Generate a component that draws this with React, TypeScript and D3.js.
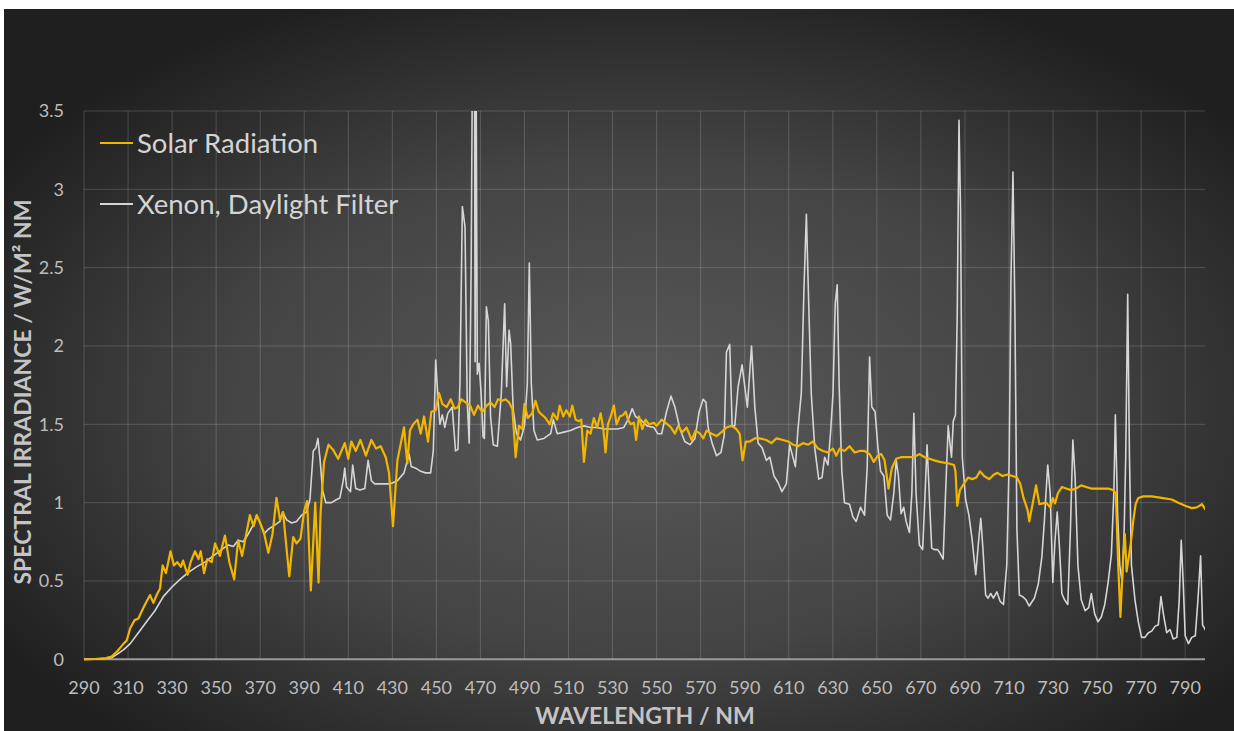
import React from "react";
import * as d3 from "d3";

// ---------- DATA ----------
const xTicks = d3.range(290, 791, 20);
const yTicks = [0, 0.5, 1, 1.5, 2, 2.5, 3, 3.5];
const seriesNames = ["Solar Radiation", "Xenon, Daylight Filter"];

// [wavelength nm, spectral irradiance W/m² nm]
const solar: [number, number][] = [
  [290,0],[295,0.002],[300,0.008],[302.5,0.017],[305,0.05],[308,0.10],[309.4,0.12],[311,0.20],[313,0.25],[314.7,0.26],[316,0.30],[317.7,0.35],[320,0.41],[321.5,0.36],[323.3,0.42],[324.5,0.45],[325.7,0.60],[327.2,0.55],[329.3,0.69],[330.8,0.60],[332.4,0.62],[334,0.59],[335,0.63],[337,0.54],[338.4,0.62],[340.4,0.69],[342,0.64],[343,0.69],[344.5,0.55],[346,0.64],[348,0.62],[349.5,0.74],[351.7,0.66],[354,0.79],[356,0.62],[358.2,0.51],[360,0.76],[361.8,0.66],[363.4,0.78],[365.3,0.92],[367,0.85],[368.4,0.92],[370,0.87],[371.7,0.81],[373.7,0.68],[375.6,0.80],[377.4,1.03],[379,0.89],[380.4,0.94],[381.6,0.76],[383.2,0.53],[385,0.78],[386.5,0.74],[388.3,0.77],[390,0.95],[391.3,1.01],[393,0.44],[395,1.00],[396.5,0.49],[397.4,0.93],[399,1.26],[401,1.37],[403,1.34],[405.4,1.28],[408.4,1.38],[410,1.28],[411.4,1.39],[413.4,1.33],[415.5,1.40],[418,1.30],[420.5,1.40],[422.6,1.345],[424.7,1.36],[427,1.29],[428.5,1.19],[430.3,0.85],[432.3,1.27],[435.3,1.48],[436.8,1.25],[438,1.46],[439.5,1.50],[441.4,1.53],[442.9,1.44],[444.4,1.55],[446.2,1.39],[447.7,1.58],[449.7,1.59],[451.2,1.70],[452.7,1.63],[454.7,1.61],[456.5,1.66],[458.3,1.60],[459.8,1.61],[461.3,1.66],[463.3,1.64],[465.3,1.62],[467.1,1.56],[468.9,1.62],[470.8,1.58],[472.8,1.62],[474.6,1.64],[476.4,1.61],[478,1.66],[479.9,1.65],[481.4,1.66],[483,1.64],[484.5,1.60],[486,1.29],[487.5,1.49],[489,1.47],[490,1.63],[491.5,1.54],[493.5,1.57],[495,1.65],[496.5,1.58],[498,1.56],[499.6,1.54],[501.5,1.50],[503,1.57],[504.9,1.53],[506,1.62],[507.6,1.55],[509,1.59],[510.6,1.55],[511.7,1.62],[513.2,1.53],[514.7,1.52],[515.8,1.53],[517,1.26],[518.5,1.46],[520,1.44],[521.5,1.54],[523,1.48],[524.6,1.57],[525.8,1.47],[526.8,1.32],[527.9,1.50],[529.4,1.56],[530.6,1.62],[531.8,1.50],[533.3,1.55],[534.8,1.56],[536,1.58],[537,1.53],[538.2,1.50],[539.7,1.51],[540.7,1.40],[542,1.55],[543.5,1.47],[545,1.53],[546.5,1.50],[548.8,1.51],[550,1.49],[552.3,1.53],[554.5,1.505],[556.5,1.48],[558.3,1.44],[559.8,1.49],[561.6,1.45],[563.6,1.48],[565.9,1.40],[567.7,1.46],[569.7,1.44],[571.2,1.41],[572.7,1.46],[575,1.44],[577.2,1.425],[579.5,1.45],[581.7,1.48],[584,1.49],[586.2,1.47],[587.7,1.44],[589,1.27],[590.5,1.39],[592.3,1.39],[594.6,1.41],[596.8,1.41],[599.8,1.40],[602.1,1.38],[604.4,1.41],[607.4,1.40],[609.7,1.39],[612,1.37],[614.2,1.36],[616.5,1.38],[618.8,1.37],[621,1.39],[623.3,1.345],[625.6,1.33],[627.8,1.32],[630,1.345],[631.6,1.30],[633.1,1.345],[635.3,1.33],[637.6,1.36],[639.9,1.32],[642.1,1.33],[644.4,1.33],[646.7,1.31],[648.6,1.26],[650.5,1.30],[652,1.31],[653.5,1.27],[655.3,1.09],[656.8,1.22],[658.8,1.28],[661,1.29],[663.3,1.29],[665.6,1.29],[667.9,1.30],[669.4,1.31],[671.7,1.29],[673.9,1.28],[676.1,1.27],[678.6,1.26],[682.7,1.25],[685,1.24],[685.7,1.20],[686.5,0.98],[687.7,1.08],[689.5,1.12],[691.4,1.16],[693.3,1.15],[695.2,1.16],[696.8,1.20],[698.7,1.17],[701,1.15],[703.2,1.18],[704.8,1.19],[707,1.17],[709.3,1.18],[711.6,1.17],[713.6,1.16],[715.1,1.12],[716.6,1.03],[718.5,0.95],[719.2,0.88],[720.7,0.99],[722.3,1.11],[723.8,0.99],[725.3,0.995],[726.9,1.00],[728.7,0.97],[729.9,1.03],[730.9,0.995],[732.2,1.06],[734,1.10],[736,1.09],[738.2,1.08],[740.5,1.09],[742.8,1.11],[745.1,1.10],[747.4,1.09],[750.4,1.09],[752.7,1.09],[755,1.09],[757.3,1.08],[758.5,1.06],[759.6,0.60],[760.6,0.27],[761.8,0.64],[762.6,0.80],[763.4,0.56],[765.3,0.74],[766.4,0.88],[767.5,0.99],[768.7,1.03],[771,1.04],[774.8,1.04],[779.3,1.03],[783.9,1.02],[786.9,1.00],[790,0.98],[793,0.965],[795.3,0.97],[797.6,0.99],[799.5,0.95]
];

const xenon: [number, number][] = [
  [290,0],[296,0.002],[300,0.005],[302.5,0.01],[304.8,0.03],[307.9,0.06],[311,0.10],[314.7,0.17],[318.4,0.24],[322.2,0.31],[326,0.40],[329.8,0.46],[333.6,0.51],[337.4,0.555],[341.1,0.59],[344.9,0.62],[348.7,0.66],[352.5,0.70],[355.5,0.73],[357.8,0.72],[360,0.76],[362.3,0.75],[364.6,0.80],[366.9,0.86],[368.4,0.92],[370,0.87],[371.7,0.80],[373.7,0.83],[375.9,0.85],[379,0.88],[380.2,0.94],[382,0.89],[384.3,0.87],[386.5,0.88],[388.8,0.92],[391,0.94],[392.6,1.02],[394.1,1.33],[395.3,1.35],[396.2,1.41],[397.1,1.29],[398.3,1.08],[399.8,1.00],[402.4,1.00],[404.7,1.02],[406.2,1.03],[407.7,1.14],[408.4,1.22],[409.2,1.10],[411,1.07],[412,1.24],[413.4,1.09],[415.3,1.08],[417.5,1.09],[419,1.27],[420.5,1.14],[422,1.12],[424.3,1.12],[426.2,1.12],[429.2,1.12],[432.3,1.14],[435.3,1.19],[437.6,1.31],[438.6,1.23],[440.6,1.22],[442.9,1.20],[445.1,1.19],[447.4,1.19],[448.6,1.33],[449.7,1.91],[450.7,1.67],[451.6,1.50],[452.7,1.56],[453.8,1.48],[455.2,1.57],[457.2,1.61],[458.7,1.33],[459.8,1.34],[460.7,1.76],[461.8,2.89],[463,2.76],[464,1.65],[464.9,1.38],[465.8,2.51],[466.4,3.9],[467.3,3.9],[467.6,1.9],[468,3.9],[468.6,1.82],[469.4,1.89],[470.3,1.70],[471.2,1.42],[471.8,1.41],[472.7,2.25],[473.6,2.16],[474.6,1.55],[475.8,1.37],[477.7,1.36],[479.5,1.70],[481,2.27],[481.9,1.74],[483,2.10],[483.7,2.02],[484.9,1.59],[486.4,1.44],[488.2,1.40],[490,1.49],[491.3,1.76],[492.2,2.53],[493.1,1.76],[494.3,1.46],[495.8,1.40],[498.8,1.41],[501.9,1.44],[503.1,1.53],[504.9,1.44],[507.9,1.45],[510.9,1.46],[514,1.48],[517,1.49],[520,1.48],[523,1.48],[526.1,1.47],[529.1,1.47],[532.1,1.47],[535.1,1.48],[537.4,1.54],[538.9,1.60],[540.4,1.55],[542.7,1.53],[545.7,1.49],[548.8,1.48],[550.5,1.44],[552.3,1.44],[554.5,1.58],[556.5,1.68],[558.3,1.61],[560.6,1.47],[562.8,1.39],[565.1,1.37],[567.4,1.41],[569.3,1.58],[571.1,1.66],[572.4,1.64],[573.4,1.48],[575.2,1.38],[577.2,1.30],[579.2,1.32],[580.7,1.43],[581.7,1.96],[583.2,2.01],[584.3,1.49],[585.5,1.49],[587,1.74],[588.8,1.88],[590.3,1.71],[591.2,1.61],[593.1,2.00],[594.6,1.61],[596.1,1.38],[597.9,1.35],[599.8,1.27],[601.4,1.29],[603.3,1.17],[605.1,1.13],[606.9,1.07],[608.9,1.12],[610.4,1.37],[611.9,1.29],[613,1.23],[614.2,1.47],[615.7,1.70],[616.9,2.36],[618,2.84],[619,2.30],[620.2,1.70],[621.8,1.35],[623.6,1.15],[625.1,1.16],[626.3,1.29],[627.8,1.24],[629,1.45],[630.1,1.70],[631.1,2.27],[632,2.39],[632.9,1.74],[634.1,1.20],[635.3,1.00],[637.6,0.99],[639.1,0.91],[640.6,0.88],[642.6,0.97],[644.4,0.92],[645.6,1.22],[646.7,1.93],[647.7,1.61],[649.2,1.58],[650.5,1.35],[651.7,1.20],[653.2,1.17],[654.7,0.92],[656.2,0.89],[657.7,1.06],[658.8,1.27],[659.8,1.17],[661,0.93],[662.2,0.97],[663.3,0.88],[664.8,0.81],[665.9,1.06],[666.8,1.57],[667.8,1.06],[669.3,0.73],[670.8,0.70],[671.9,1.06],[672.8,1.37],[673.9,1.02],[674.9,0.71],[676.1,0.70],[677.6,0.70],[678.6,0.68],[680.1,0.64],[681.2,1.06],[682.4,1.49],[683.2,1.38],[683.9,1.29],[684.7,1.52],[685.7,1.56],[686.5,2.20],[687.3,3.44],[688,2.88],[688.8,1.29],[690.3,1.02],[691.8,0.92],[693.3,0.76],[694.9,0.54],[696.1,0.74],[697.2,0.90],[698.2,0.70],[699.4,0.41],[700.5,0.39],[701.7,0.42],[702.9,0.39],[704.5,0.43],[706,0.37],[707.5,0.35],[709,0.60],[710.1,1.29],[710.9,2.43],[711.8,3.11],[712.7,2.20],[713.6,0.83],[714.7,0.41],[716.2,0.40],[717.7,0.38],[719.2,0.34],[721.5,0.39],[723.3,0.48],[724.9,0.65],[726.1,0.89],[726.8,1.06],[727.6,1.24],[728.7,1.06],[729.9,0.49],[730.9,0.76],[731.9,0.94],[732.9,0.72],[734,0.42],[735.2,0.38],[736.7,0.35],[737.9,0.83],[739,1.40],[740,1.17],[741.3,0.60],[742.8,0.38],[744.6,0.31],[746.2,0.33],[747.4,0.42],[748.9,0.29],[750.4,0.24],[751.9,0.27],[753.5,0.35],[755,0.49],[756.5,0.67],[757.6,1.06],[758.3,1.56],[759.3,0.94],[760.3,0.60],[761.4,0.49],[762.3,0.83],[763,1.29],[763.9,2.33],[764.7,1.29],[765.6,0.60],[767.2,0.38],[768.7,0.24],[770.2,0.14],[771.7,0.14],[773.3,0.17],[774.8,0.18],[776.3,0.21],[777.8,0.22],[779,0.40],[780.1,0.29],[781.6,0.17],[783.1,0.19],[784.6,0.13],[786.2,0.14],[787.3,0.38],[788.2,0.76],[789.1,0.49],[790,0.15],[791.5,0.10],[793,0.14],[794.6,0.15],[795.8,0.38],[797,0.66],[797.9,0.22],[799.5,0.18]
];

// ---------- LAYOUT ----------
const W = 1234;
const H = 731;
const left = 84;
const right = 1205;
const top = 111;
const bottom = 659.3;
const FONT = "Lato, 'Open Sans', sans-serif";
const SOLAR_COLOR = "#f2b600";
const XENON_COLOR = "#d6d6d6";

export default function App() {
  const x = d3.scaleLinear().domain([290, 799]).range([left, right]);
  const y = d3.scaleLinear().domain([0, 3.5]).range([bottom, top]);
  const line = d3
    .line<[number, number]>()
    .x((d) => x(d[0]))
    .y((d) => y(d[1]));

  return (
    <svg
      width={W}
      height={H}
      style={{ position: "absolute", left: 0, top: 0, display: "block" }}
      fontFamily={FONT}
    >
      <defs>
        <radialGradient id="bg" cx="52%" cy="55%" r="62%" fx="52%" fy="55%">
          <stop offset="0%" stopColor="#595959" />
          <stop offset="55%" stopColor="#444444" />
          <stop offset="100%" stopColor="#1f1f1f" />
        </radialGradient>
        <clipPath id="plotClip">
          <rect x={left} y={top} width={right - left} height={bottom - top + 2} />
        </clipPath>
      </defs>
      <rect x={0} y={0} width={W} height={H} fill="#ffffff" />
      <rect x={4} y={9} width={W - 4} height={H - 9} fill="url(#bg)" />

      {/* gridlines */}
      <g stroke="#ffffff" strokeOpacity={0.17} strokeWidth={1}>
        {yTicks.slice(1).map((t) => (
          <line key={"h" + t} x1={left} x2={right} y1={y(t)} y2={y(t)} />
        ))}
        {xTicks.map((t) => (
          <line key={"v" + t} x1={x(t)} x2={x(t)} y1={top} y2={bottom} />
        ))}
      </g>
      <line x1={left} x2={right} y1={y(0)} y2={y(0)} stroke="#9a9a9a" strokeWidth={2} />

      {/* y ticks */}
      <g fill="#bdbdbd" fontSize={18} textAnchor="end">
        {yTicks.map((t) => (
          <text key={"yl" + t} x={64} y={y(t)} dy="0.35em">
            {String(t)}
          </text>
        ))}
      </g>
      {/* x ticks */}
      <g fill="#bdbdbd" fontSize={18} textAnchor="middle">
        {xTicks.map((t) => (
          <text key={"xl" + t} x={x(t)} y={688} dy="0.35em">
            {String(t)}
          </text>
        ))}
      </g>

      {/* axis titles */}
      <text
        x={645}
        y={716}
        dy="0.35em"
        textAnchor="middle"
        fontWeight="bold"
        fontSize={23}
        fill="#c4c4c4"
      >
        WAVELENGTH / NM
      </text>
      <text
        transform={`translate(23, 392) rotate(-90)`}
        dy="0.35em"
        textAnchor="middle"
        fontWeight="bold"
        fontSize={23}
        fill="#c4c4c4"
      >
        SPECTRAL IRRADIANCE / W/M² NM
      </text>

      {/* series */}
      <g clipPath="url(#plotClip)" fill="none" strokeLinejoin="round">
        <path d={line(xenon) || ""} stroke={XENON_COLOR} strokeWidth={1.6} />
        <path d={line(solar) || ""} stroke={SOLAR_COLOR} strokeWidth={2.2} />
      </g>

      {/* legend */}
      <g fontSize={27.5} fill="#d4d4d4">
        <line x1={100} x2={133} y1={143} y2={143} stroke={SOLAR_COLOR} strokeWidth={2} />
        <text x={137} y={143} dy="0.35em">
          {seriesNames[0]}
        </text>
        <line x1={100} x2={133} y1={204} y2={204} stroke={XENON_COLOR} strokeWidth={2} />
        <text x={137} y={204} dy="0.35em">
          {seriesNames[1]}
        </text>
      </g>
    </svg>
  );
}
